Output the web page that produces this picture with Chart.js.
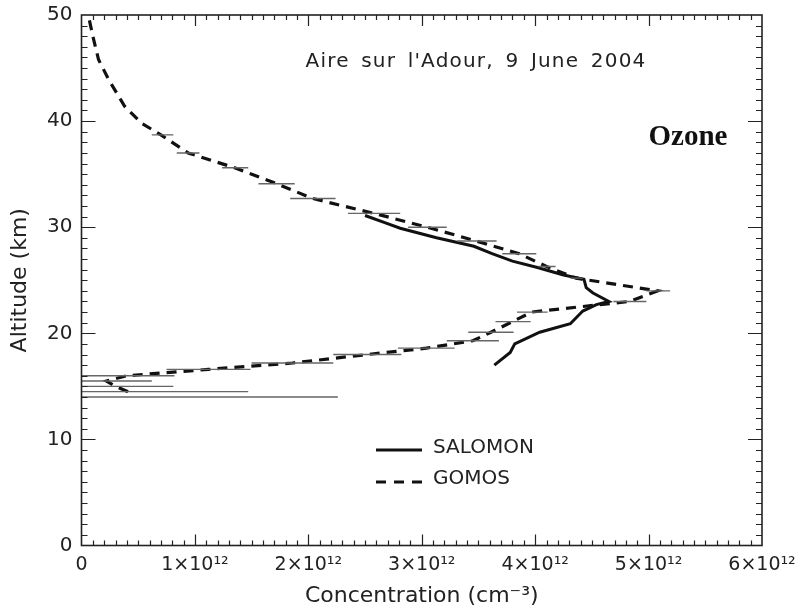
<!DOCTYPE html>
<html>
<head>
<meta charset="utf-8">
<script src="https://cdn.jsdelivr.net/npm/chart.js@4.4.1/dist/chart.umd.min.js"></script>
<style>
  html, body { margin: 0; padding: 0; background: #fff; }
  #wrap { width: 800px; height: 609px; position: relative; }
</style>
</head>
<body>
<div id="wrap"><canvas id="ozone"></canvas></div>
<script>
// ** Ozone profile, Aire sur l'Adour 9 June 2004 **//

// GOMOS profile (dashed): altitude in km, concentration in cm-3
var gomosAlt  = [49.5, 48.0, 45.8, 43.9, 41.4, 39.8, 38.7, 37.0, 35.6, 34.1, 32.7, 31.3, 30.0, 28.7, 27.5, 26.3,
                 25.2, 24.0, 23.0, 22.0, 21.1, 20.1, 19.3, 18.6, 18.0, 17.2, 16.6, 16.0, 15.5, 15.0, 14.5];
var gomosConc = [0.07e12, 0.10e12, 0.15e12, 0.24e12, 0.38e12, 0.53e12, 0.70e12, 0.94e12, 1.35e12, 1.72e12,
                 2.04e12, 2.58e12, 3.05e12, 3.48e12, 3.86e12, 4.10e12, 4.36e12, 5.08e12, 4.83e12, 3.97e12,
                 3.80e12, 3.61e12, 3.45e12, 3.04e12, 2.52e12, 1.86e12, 1.12e12, 0.40e12, 0.22e12, 0.30e12, 0.41e12];

// GOMOS error bars (thin horizontal lines)
var errAlt = [38.7, 37.0, 35.6, 34.1, 32.7, 31.3, 30.0, 28.7, 27.5, 26.3, 25.2, 24.0, 23.0, 22.0, 21.1, 20.1,
              19.3, 18.6, 18.0, 17.2, 16.6, 16.0, 15.5, 15.0, 14.5, 14.0];
var errLo  = [0.62e12, 0.84e12, 1.24e12, 1.56e12, 1.84e12, 2.35e12, 2.88e12, 3.31e12, 3.71e12, 4.03e12, 4.31e12,
              4.98e12, 4.69e12, 3.84e12, 3.65e12, 3.41e12, 3.22e12, 2.79e12, 2.22e12, 1.50e12, 0.75e12,
              0, 0, 0, 0, 0];
var errHi  = [0.81e12, 1.04e12, 1.47e12, 1.88e12, 2.24e12, 2.81e12, 3.22e12, 3.66e12, 4.01e12, 4.18e12, 4.42e12,
              5.19e12, 4.98e12, 4.11e12, 3.96e12, 3.81e12, 3.68e12, 3.29e12, 2.82e12, 2.22e12, 1.49e12,
              0.82e12, 0.62e12, 0.81e12, 1.47e12, 2.26e12];

// SALOMON balloon profile (solid)
var salomonAlt  = [31.1, 30.4, 29.9, 29.0, 28.2, 27.5, 26.8, 26.2, 25.5, 25.1, 24.3, 23.8, 23.0, 22.7, 22.1,
                   20.9, 20.1, 19.0, 18.2, 17.0];
var salomonConc = [2.50e12, 2.68e12, 2.81e12, 3.13e12, 3.46e12, 3.62e12, 3.80e12, 4.02e12, 4.25e12, 4.43e12,
                   4.45e12, 4.51e12, 4.65e12, 4.54e12, 4.42e12, 4.31e12, 4.04e12, 3.82e12, 3.78e12, 3.64e12];

var xTicks = ['0', '1×10¹²', '2×10¹²', '3×10¹²', '4×10¹²', '5×10¹²', '6×10¹²'];
var seriesNames = ['SALOMON', 'GOMOS'];

var gomosPts = gomosAlt.map(function (a, i) { return {x: gomosConc[i], y: a}; });
var salomonPts = salomonAlt.map(function (a, i) { return {x: salomonConc[i], y: a}; });
var errPts = [];
errAlt.forEach(function (a, i) {
    errPts.push({x: errLo[i], y: a}, {x: errHi[i], y: a}, {x: NaN, y: NaN});
});

Chart.defaults.font.family = '"DejaVu Sans", sans-serif';
Chart.defaults.color = '#222';

// inward ticks on all four sides + frame
var frameTicks = {
    id: 'frameTicks',
    afterDatasetsDraw: function (chart) {
        var ctx = chart.ctx, a = chart.chartArea, x = chart.scales.x, y = chart.scales.y;
        ctx.save();
        ctx.strokeStyle = '#222';
        ctx.lineWidth = 1.2;
        ctx.beginPath();
        for (var i = 1; i < 60; i++) {
            var px = Math.round(x.getPixelForValue(i * 0.1e12)) + 0.5;
            var len = i % 10 === 0 ? 11 : 5;
            ctx.moveTo(px, a.bottom); ctx.lineTo(px, a.bottom - len);
            ctx.moveTo(px, a.top); ctx.lineTo(px, a.top + len);
        }
        for (var j = 1; j < 50; j++) {
            var py = Math.round(y.getPixelForValue(j)) + 0.5;
            var l2 = j % 10 === 0 ? 14 : 6;
            ctx.moveTo(a.left, py); ctx.lineTo(a.left + l2, py);
            ctx.moveTo(a.right, py); ctx.lineTo(a.right - l2, py);
        }
        ctx.stroke();
        ctx.lineWidth = 1.6;
        ctx.strokeRect(a.left, a.top, a.right - a.left, a.bottom - a.top);
        ctx.restore();
    }
};

// annotation texts and the legend
var labels = {
    id: 'labels',
    afterDraw: function (chart) {
        var ctx = chart.ctx;
        ctx.save();
        ctx.fillStyle = '#222';
        ctx.textBaseline = 'middle';
        ctx.textAlign = 'center';
        ctx.font = '20px "DejaVu Sans"';
        ctx.letterSpacing = '1.2px';
        ctx.wordSpacing = '4px';
        ctx.fillText("Aire sur l'Adour, 9 June 2004", 476, 62);
        ctx.letterSpacing = '0px';
        ctx.wordSpacing = '0px';
        ctx.fillStyle = '#111';
        ctx.font = 'bold 29px "Liberation Serif"';
        ctx.fillText('Ozone', 688, 138);

        ctx.strokeStyle = '#111';
        ctx.lineWidth = 3;
        ctx.beginPath(); ctx.moveTo(376, 450); ctx.lineTo(422, 450); ctx.stroke();
        ctx.setLineDash([10, 8]);
        ctx.beginPath(); ctx.moveTo(376, 482); ctx.lineTo(422, 482); ctx.stroke();
        ctx.setLineDash([]);
        ctx.fillStyle = '#222';
        ctx.textAlign = 'left';
        ctx.font = '20px "DejaVu Sans"';
        ctx.fillText(seriesNames[0], 433, 448);
        ctx.fillText(seriesNames[1], 433, 479);
        ctx.restore();
    }
};

var ozone = new Chart(document.getElementById('ozone'), {
    type: 'scatter',
    data: {
        datasets: [{
            label: 'error',
            data: errPts,
            showLine: true,
            spanGaps: false,
            borderColor: '#666',
            borderWidth: 1.4,
            pointRadius: 0
        }, {
            label: seriesNames[1],
            data: gomosPts,
            showLine: true,
            borderColor: '#111',
            borderWidth: 3.2,
            borderDash: [10, 7],
            pointRadius: 0
        }, {
            label: seriesNames[0],
            data: salomonPts,
            showLine: true,
            borderColor: '#111',
            borderWidth: 3,
            pointRadius: 0
        }]
    },
    options: {
        responsive: true,
        maintainAspectRatio: false,
        animation: false,
        layout: { padding: { top: 15, right: 38, left: 0, bottom: 0 } },
        plugins: { legend: { display: false }, tooltip: { enabled: false } },
        scales: {
            x: {
                type: 'linear', min: 0, max: 6e12,
                grid: { display: false, drawTicks: false },
                border: { display: false },
                ticks: {
                    stepSize: 1e12, maxRotation: 0, autoSkip: false, padding: 8,
                    font: { size: 19 },
                    callback: function (v) { return xTicks[Math.round(v / 1e12)]; }
                },
                title: { display: true, text: 'Concentration (cm⁻³)', font: { size: 22 }, padding: { top: 0, bottom: 0 } },
                afterFit: function (s) { s.height = 63.5; s.paddingLeft = 0; s.paddingRight = 0; }
            },
            y: {
                type: 'linear', min: 0, max: 50,
                grid: { display: false, drawTicks: false },
                border: { display: false },
                ticks: { stepSize: 10, padding: 9, font: { size: 20 } },
                title: { display: true, text: 'Altitude (km)', font: { size: 22 }, padding: { top: 7, bottom: 0 } },
                afterFit: function (s) { s.width = 81.5; s.paddingTop = 0; s.paddingBottom = 0; }
            }
        }
    },
    plugins: [frameTicks, labels]
});
</script>
</body>
</html>
